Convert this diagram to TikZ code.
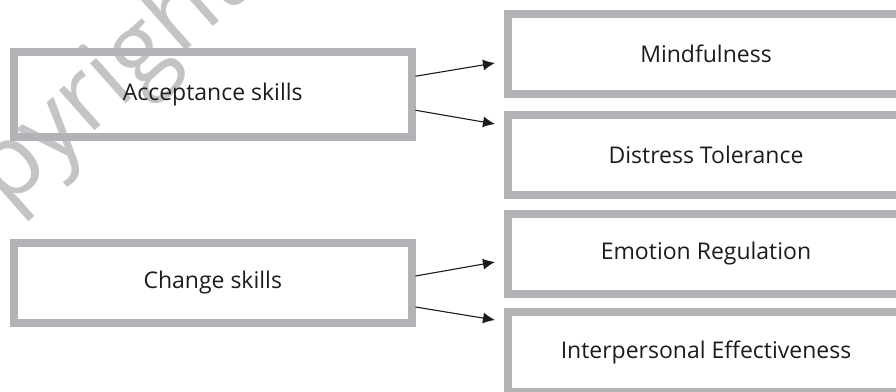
\documentclass[tikz,border=0pt]{standalone}
\usepackage{fontspec}
\setmainfont{Open Sans}
\usetikzlibrary{arrows.meta,calc}
\definecolor{boxgray}{RGB}{178,179,183}
\definecolor{markgray}{RGB}{196,196,198}
\definecolor{inkblack}{RGB}{30,27,28}
\tikzset{
  skillbox/.style={draw=boxgray,line width=8pt,minimum height=80pt,inner sep=0pt,
    text=inkblack,font=\fontsize{23}{27}\selectfont},
  link/.style={-{Latex[length=12pt,width=11pt]},line width=1.1pt,inkblack}
}
\begin{document}
\begin{tikzpicture}[x=1pt,y=-1pt]
  \path[use as bounding box,clip] (0,0) rectangle (896,391);
  \node[text=markgray,font=\fontsize{100}{104}\selectfont,rotate=41.5,anchor=base] (mark) at (83,142) {Copyright};
  \node[skillbox,minimum width=397.5pt,minimum height=84.5pt] (accept) at (212.75,94.25) {Acceptance skills};
  \node[skillbox,minimum width=397.5pt] (change) at (212.75,283) {Change skills};
  \node[skillbox,minimum width=396pt] (mind) at (706,54) {Mindfulness};
  \node[skillbox,minimum width=396pt] (distress) at (706,155) {Distress Tolerance};
  \node[skillbox,minimum width=396pt] (emotion) at (706,254) {Emotion Regulation};
  \node[skillbox,minimum width=396pt] (inter) at (706,352) {Interpersonal Effectiveness};
  \draw[link]($(accept.east)+(0,-18)$)--($(mind.west)+(-9,9)$);
  \draw[link]($(accept.east)+(0,16)$)--($(distress.west)+(-9,-31)$);
  \draw[link]($(change.east)+(0,-7)$)--($(emotion.west)+(-9,8)$);
  \draw[link]($(change.east)+(0,24)$)--($(inter.west)+(-9,-32)$);
\end{tikzpicture}
\end{document}
